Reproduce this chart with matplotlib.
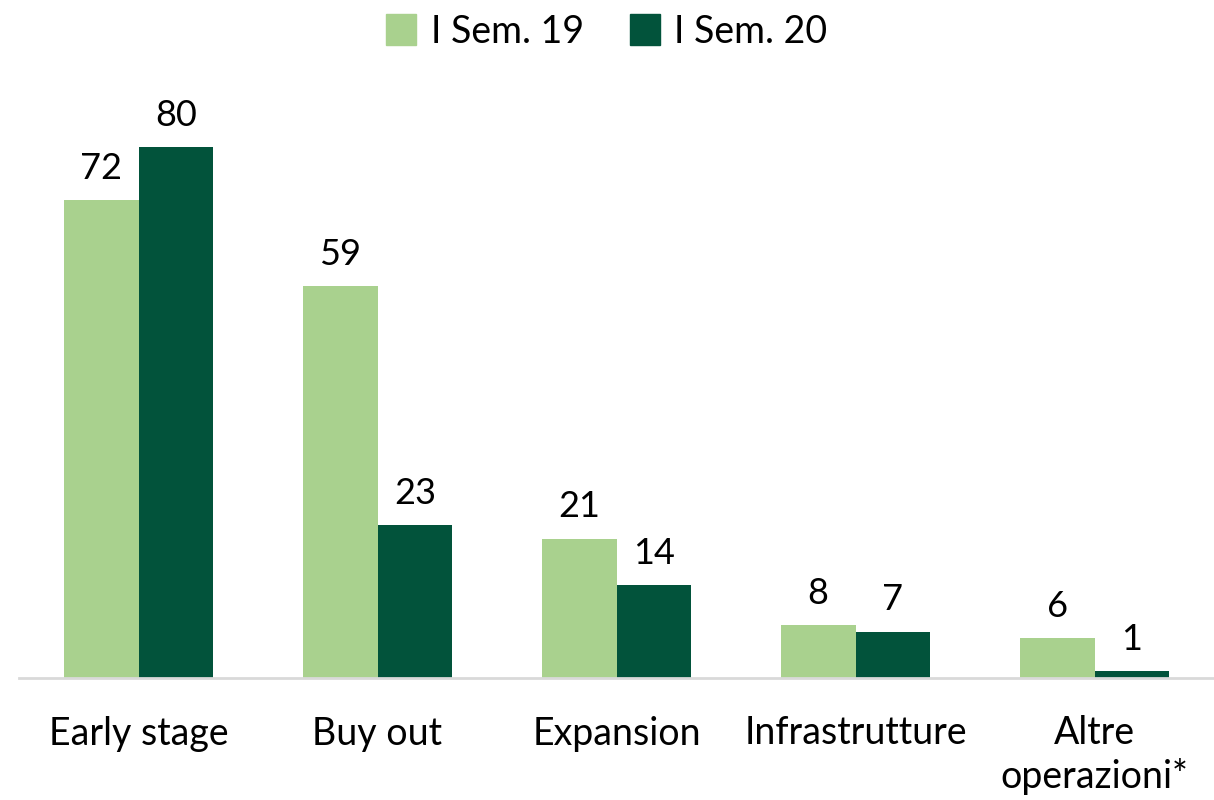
import numpy as np
import matplotlib.pyplot as plt
from matplotlib.patches import Patch

plt.rcParams['font.family'] = ['Lato', 'DejaVu Sans']
plt.rcParams['font.size'] = 27

categories = ['Early stage', 'Buy out', 'Expansion', 'Infrastrutture', 'Altre\noperazioni*']
sem19 = [72, 59, 21, 8, 6]
sem20 = [80, 23, 14, 7, 1]
series_names = ['I Sem. 19', 'I Sem. 20']
colors = ['#A9D18E', '#02533B']

fig = plt.figure(figsize=(12.14, 8), dpi=100)
ax = fig.add_axes([19 / 1214, 122 / 800, 1 - 19 / 1214, 578 / 800])

x = np.arange(len(categories))
w = 0.3125
b1 = ax.bar(x - w / 2, sem19, w, color=colors[0])
b2 = ax.bar(x + w / 2, sem20, w, color=colors[1])

for bars, vals in ((b1, sem19), (b2, sem20)):
    for rect, v in zip(bars, vals):
        ax.annotate(str(v), (rect.get_x() + rect.get_width() / 2, v),
                    xytext=(0, 11), textcoords='offset points',
                    ha='center', va='bottom', fontsize=26)

ax.set_xlim(-0.5, 4.5)
ax.set_ylim(0, 87.05)
ax.set_xticks(x)
ax.set_xticklabels(categories, linespacing=1.22)
ax.tick_params(axis='x', length=0, pad=27)
ax.set_yticks([])
for s in ['top', 'right', 'left']:
    ax.spines[s].set_visible(False)
ax.spines['bottom'].set_color('#D9D9D9')
ax.spines['bottom'].set_linewidth(2)

handles = [Patch(color=c, label=n) for c, n in zip(colors, series_names)]
fig.legend(handles=handles, loc='upper center', bbox_to_anchor=(0.5, 1.025),
           ncol=2, frameon=False, handlelength=0.8, handleheight=0.9,
           handletextpad=0.4, columnspacing=1.2, fontsize=27)

plt.savefig('out.png', dpi=100)
